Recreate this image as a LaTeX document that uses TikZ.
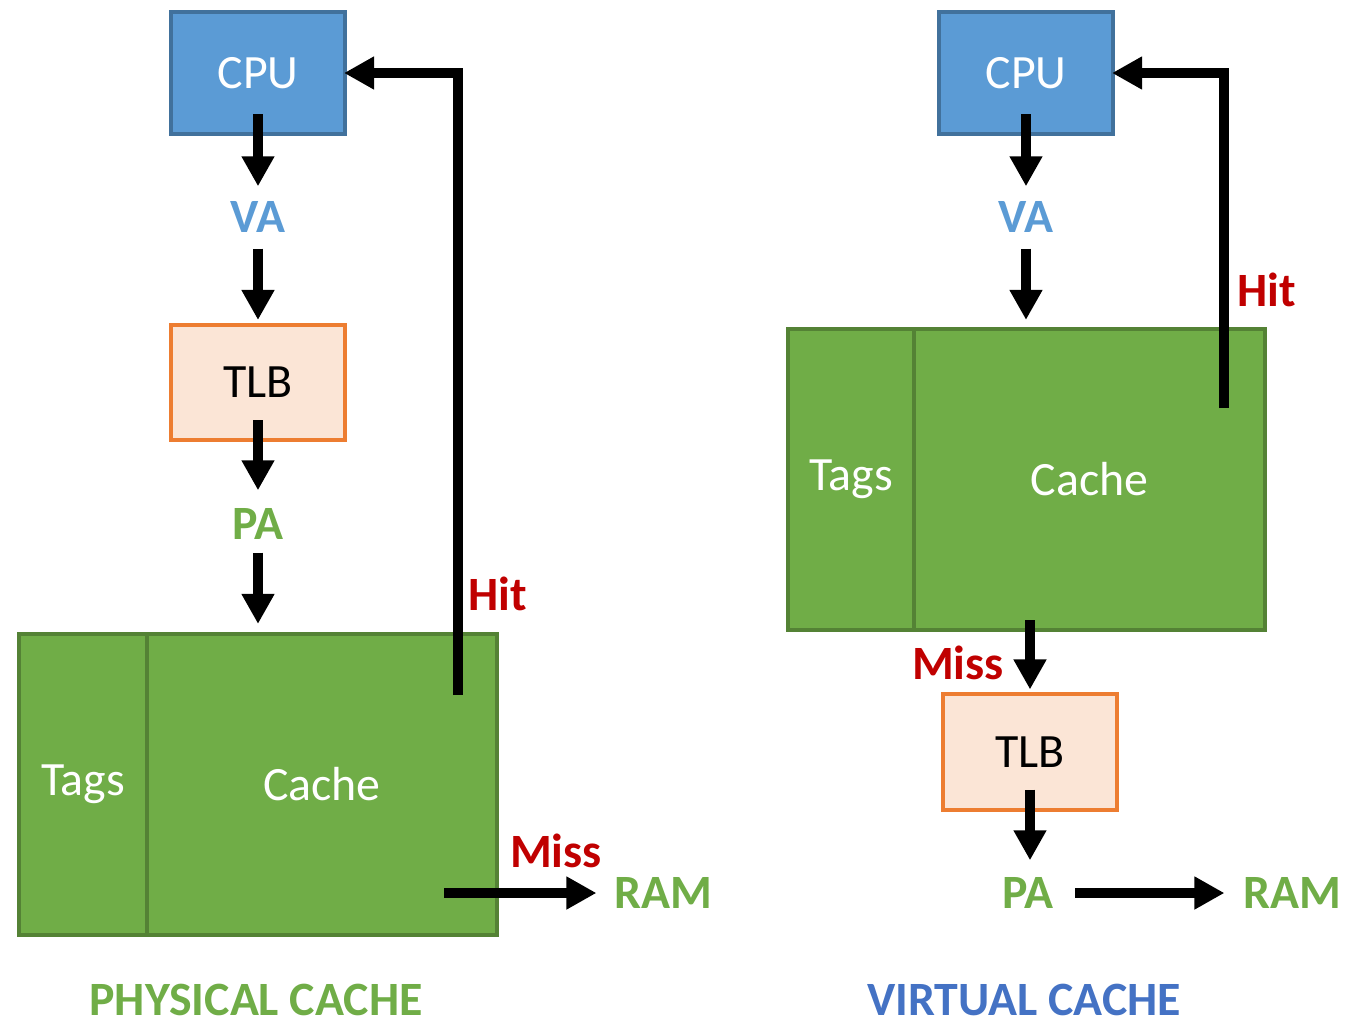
\documentclass[tikz,border=0pt]{standalone}
\usepackage{fontspec}
\setmainfont{Carlito}
\usetikzlibrary{arrows.meta,positioning}
\definecolor{cpuFill}{HTML}{5B9BD5}
\definecolor{cpuEdge}{HTML}{41719C}
\definecolor{tlbFill}{HTML}{FBE5D6}
\definecolor{tlbEdge}{HTML}{ED7D31}
\definecolor{cacheFill}{HTML}{70AD47}
\definecolor{cacheEdge}{HTML}{548235}
\definecolor{hitRed}{HTML}{C00000}
\definecolor{titleBlue}{HTML}{4472C4}
\tikzset{
	%Diagrammes style
	cpu/.style={
		draw=cpuEdge,
		fill=cpuFill,
		line width=0.04cm,
		minimum width=1.74cm,
		minimum height=1.22cm,
		text=white,
		font=\fontsize{13.6}{16}\selectfont,
	},
	tlb/.style={
		draw=tlbEdge,
		fill=tlbFill,
		line width=0.04cm,
		minimum width=1.74cm,
		minimum height=1.15cm,
		text=black,
		font=\fontsize{13.6}{16}\selectfont,
	},
	block/.style={
		draw=cacheEdge,
		fill=cacheFill,
		line width=0.04cm,
		minimum height=3.01cm,
		text=white,
		font=\fontsize{13.6}{16}\selectfont,
	},
	address/.style={
		inner sep=0pt,
		text height=0.3cm,
		text depth=0cm,
		font=\bfseries\fontsize{13.6}{16}\selectfont,
	},
	outcome/.style={
		inner sep=0pt,
		text=hitRed,
		font=\bfseries\fontsize{13.6}{16}\selectfont,
	},
	title/.style={
		inner sep=0pt,
		font=\bfseries\fontsize{13.6}{16}\selectfont,
	},
	flow/.style={
		line width=0.1cm,
		-{Triangle[width=0.31cm,length=0.3cm]},
	},
}

\begin{document}
\begin{tikzpicture}[x=0.01cm, y=-0.01cm]
	\useasboundingbox (0,0) rectangle (1357,1024);

	% physical cache
	\node(cpuL) at (258,73) [cpu] {CPU};
	\node(vaL) at (258,217) [address, text=cpuFill] {VA};
	\node(tlbL) at (258,382.5) [tlb] {TLB};
	\node(paL) at (258,524) [address, text=cacheFill] {PA};
	\node(tagsL) at (83,784.5) [block, minimum width=1.28cm] {Tags};
	\node(cacheL) at (322,784.5) [block, minimum width=3.5cm] {Cache};
	\node(ramL) at (663,893) [address, text=cacheFill] {RAM};
	\node(hitLabelL) at (498,594) [outcome] {Hit};
	\node(missLabelL) at (556,851) [outcome] {Miss};
	\node(titleL) at (256,1000) [title, text=cacheFill] {PHYSICAL CACHE};
	\coordinate (hitL) at (458,695);
	\coordinate (missL) at (444,893);

	\draw[flow, shorten <=-0.22cm, shorten >=0.15cm] (cpuL.south) -- (vaL.north);
	\draw[flow, shorten <=0.16cm, shorten >=0.03cm] (vaL.south) -- (tlbL.north);
	\draw[flow, shorten <=-0.22cm, shorten >=0.18cm] (tlbL.south) -- (paL.north);
	\draw[flow, shorten <=0.13cm, shorten >=0.08cm] (paL.south) -- (paL |- cacheL.north);
	\draw[flow, shorten >=-0.03cm] (hitL) |- (cpuL.east);
	\draw[flow, shorten >=0.17cm] (missL) -- (ramL.west);

	% virtual cache
	\node(cpuR) at (1026,73) [cpu] {CPU};
	\node(vaR) at (1026,217) [address, text=cpuFill] {VA};
	\node(tagsR) at (851,479.5) [block, minimum width=1.26cm] {Tags};
	\node(cacheR) at (1089.5,479.5) [block, minimum width=3.51cm] {Cache};
	\node(tlbR) at (1030,752) [tlb] {TLB};
	\node(paR) at (1028,893) [address, text=cacheFill] {PA};
	\node(ramR) at (1292,893) [address, text=cacheFill] {RAM};
	\node(hitLabelR) at (1267,290) [outcome] {Hit};
	\node(missLabelR) at (958,663) [outcome] {Miss};
	\node(titleR) at (1024,1000) [title, text=titleBlue] {VIRTUAL CACHE};
	\coordinate (hitR) at (1224,408);

	\draw[flow, shorten <=-0.22cm, shorten >=0.15cm] (cpuR.south) -- (vaR.north);
	\draw[flow, shorten <=0.16cm, shorten >=0.07cm] (vaR.south) -- (vaR |- cacheR.north);
	\draw[flow, shorten >=-0.03cm] (hitR) |- (cpuR.east);
	\draw[flow, shorten <=-0.12cm, shorten >=0.03cm] (tlbR.north |- cacheR.south) -- (tlbR.north);
	\draw[flow, shorten <=-0.22cm, shorten >=0.17cm] (tlbR.south) -- (tlbR.south |- paR.north);
	\draw[flow, shorten <=0.21cm, shorten >=0.18cm] (paR.east) -- (ramR.west);
\end{tikzpicture}
\end{document}
